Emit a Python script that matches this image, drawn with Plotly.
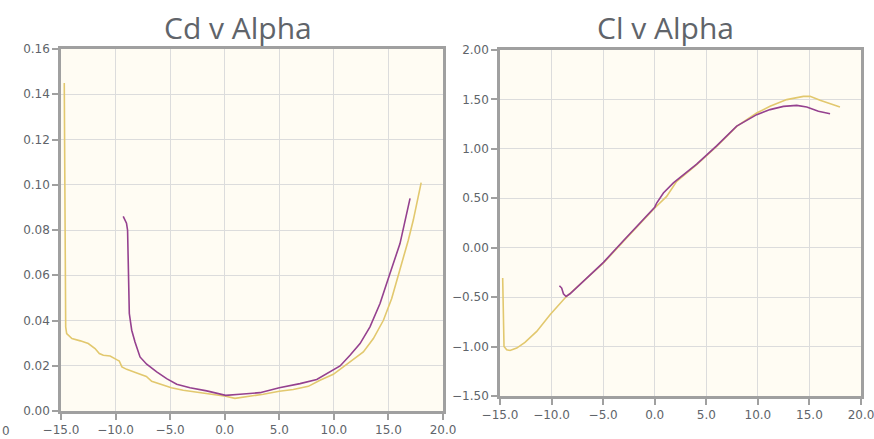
import plotly.graph_objects as go

W, H = 874, 439

# ---- Cd v Alpha data ----
cd_yellow_alpha = [-14.7, -14.57, -14.48, -14.0, -13.23, -12.5, -11.88, -11.49, -11.12, -10.5, -9.9, -9.66,
                   -9.42, -8.98, -8.06, -7.18, -6.69, -5.9, -4.89, -3.8, -2.26, -1.05, 0.09, 0.94, 2.0, 3.54,
                   5.0, 6.28, 7.66, 8.73, 9.95, 10.87, 11.78, 12.7, 13.62, 14.54, 15.3, 16.06, 16.82, 17.28, 18.0]
cd_yellow = [0.145, 0.0372, 0.0342, 0.032, 0.031, 0.0298, 0.0276, 0.0254, 0.0246, 0.0243, 0.0227, 0.0221,
             0.0195, 0.0184, 0.0168, 0.0153, 0.0131, 0.0118, 0.0103, 0.0092, 0.0081, 0.0074, 0.0065, 0.0056,
             0.0062, 0.0074, 0.0087, 0.0095, 0.0109, 0.0136, 0.0162, 0.0195, 0.0224, 0.0261, 0.032, 0.0401,
             0.0497, 0.0622, 0.0755, 0.0844, 0.1009]

cd_purple_alpha = [-9.3, -9.0, -8.9, -8.83, -8.74, -8.52, -8.22, -7.76, -7.15, -6.23, -5.32, -4.4, -3.18,
                   -1.65, -0.43, 0.09, 1.4, 3.23, 5.0, 6.9, 8.43, 9.66, 10.57, 11.48, 12.4, 13.31, 14.23,
                   15.14, 16.06, 16.98]
cd_purple = [0.086, 0.083, 0.0799, 0.0622, 0.0431, 0.0357, 0.0305, 0.0239, 0.0207, 0.0173, 0.0143, 0.0118,
             0.0103, 0.0089, 0.0077, 0.0069, 0.0074, 0.0081, 0.0103, 0.0121, 0.0139, 0.0173, 0.0199, 0.0246,
             0.0298, 0.0372, 0.0475, 0.0608, 0.074, 0.094]

# ---- Cl v Alpha data ----
cl_yellow_alpha = [-14.74, -14.61, -14.35, -14.03, -13.38, -12.58, -11.44, -10.15, -8.7, -6.91, -4.97, -3.04,
                   -1.1, 0.0, 1.16, 2.13, 4.07, 6.0, 7.95, 9.89, 11.18, 12.8, 14.42, 15.06, 16.03, 17.96]
cl_yellow = [-0.307, -0.999, -1.032, -1.04, -1.015, -0.958, -0.847, -0.678, -0.509, -0.341, -0.155, 0.064,
             0.283, 0.402, 0.519, 0.671, 0.84, 1.025, 1.228, 1.363, 1.43, 1.498, 1.531, 1.531, 1.491, 1.424]

cl_purple_alpha = [-9.24, -9.02, -8.85, -8.6, -8.21, -6.91, -4.97, -3.04, -1.1, 0.0, 0.19, 0.84, 1.81,
                   4.07, 6.0, 7.95, 9.89, 11.18, 12.48, 13.77, 14.74, 15.87, 17.0]
cl_purple = [-0.385, -0.408, -0.466, -0.493, -0.466, -0.335, -0.148, 0.071, 0.29, 0.41, 0.452, 0.553, 0.655,
             0.845, 1.03, 1.23, 1.346, 1.397, 1.43, 1.44, 1.424, 1.38, 1.356]

YELLOW = "#e2c86e"
PURPLE = "#95418f"
FRAME = "#a0a0a0"
GRID = "#dcdcdc"
TXT = "#60646a"
BG = "#fffcf3"

fig = go.Figure()
fig.add_trace(go.Scatter(x=cd_yellow_alpha, y=cd_yellow, mode="lines", line=dict(color=YELLOW, width=1.6),
                         xaxis="x", yaxis="y", showlegend=False, hoverinfo="skip"))
fig.add_trace(go.Scatter(x=cd_purple_alpha, y=cd_purple, mode="lines", line=dict(color=PURPLE, width=1.6),
                         xaxis="x", yaxis="y", showlegend=False, hoverinfo="skip"))
fig.add_trace(go.Scatter(x=cl_yellow_alpha, y=cl_yellow, mode="lines", line=dict(color=YELLOW, width=1.6),
                         xaxis="x2", yaxis="y2", showlegend=False, hoverinfo="skip"))
fig.add_trace(go.Scatter(x=cl_purple_alpha, y=cl_purple, mode="lines", line=dict(color=PURPLE, width=1.6),
                         xaxis="x2", yaxis="y2", showlegend=False, hoverinfo="skip"))

tickfont = dict(family="DejaVu Sans", size=12, color=TXT)
common = dict(showgrid=True, gridcolor=GRID, gridwidth=1, showline=True, linecolor=FRAME, linewidth=2.5,
              mirror=True, ticks="outside", ticklen=6, tickcolor=FRAME, tickwidth=1.5, tickfont=tickfont,
              zeroline=False, fixedrange=True, automargin=False, ticklabeloverflow="allow")

fig.update_layout(
    width=W, height=H, margin=dict(l=0, r=0, t=0, b=0),
    paper_bgcolor="white", plot_bgcolor=BG,
    xaxis=dict(domain=[61 / W, 443 / W], range=[-15, 20], dtick=5, tick0=0, tickformat=".1f",
               anchor="y", **common),
    yaxis=dict(domain=[1 - 411 / H, 1 - 49 / H], range=[0, 0.16], dtick=0.02, tickformat=".2f",
               anchor="x", **common),
    xaxis2=dict(domain=[500 / W, 861 / W], range=[-15, 20], dtick=5, tick0=0, tickformat=".1f",
                anchor="y2", **common),
    yaxis2=dict(domain=[1 - 396 / H, 1 - 50 / H], range=[-1.5, 2.0], dtick=0.5, tickformat=".2f",
                anchor="x2", **common),
    annotations=[
        dict(text="Cd v Alpha", x=238 / W, y=1 - 27 / H, xref="paper", yref="paper", showarrow=False,
             xanchor="center", yanchor="middle", font=dict(family="Open Sans", size=30, color=TXT)),
        dict(text="Cl v Alpha", x=665 / W, y=1 - 27 / H, xref="paper", yref="paper", showarrow=False,
             xanchor="center", yanchor="middle", font=dict(family="Open Sans", size=30, color=TXT)),
        dict(text="0", x=0, y=1 - 431 / H, xref="paper", yref="paper", showarrow=False,
             xanchor="left", yanchor="middle", font=tickfont),
    ],
)

fig.write_html("out.html")
